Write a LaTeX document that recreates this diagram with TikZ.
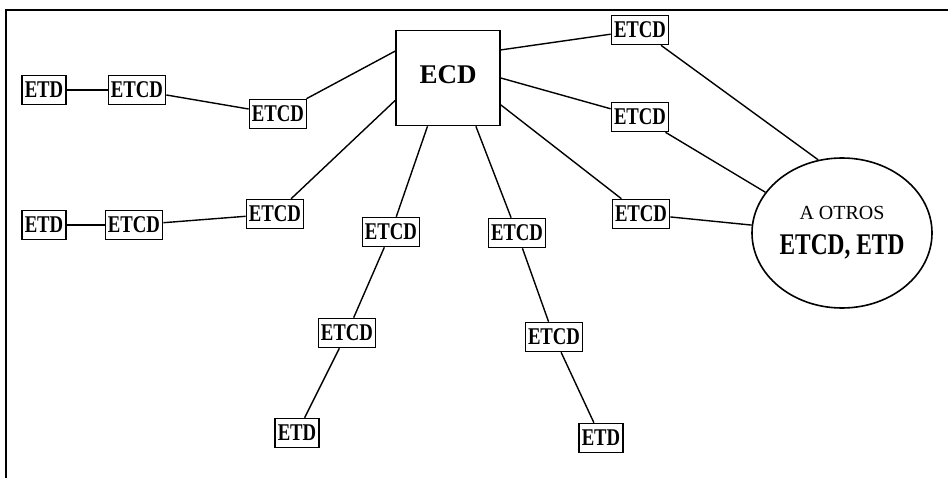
\documentclass[tikz,border=0pt]{standalone}
\usepackage{fontspec}
\setmainfont{Liberation Serif}
\usetikzlibrary{shapes.geometric}
\begin{document}
\begin{tikzpicture}[x=1pt,y=-1pt,
  box/.style={draw,line width=1.6pt,inner xsep=2.5pt,inner ysep=0pt,minimum height=29pt,
    font=\fontsize{24}{24}\selectfont\bfseries},
  link/.style={line width=1.4pt},
  frame/.style={line width=2.4pt}]
\useasboundingbox (0,0) rectangle (948,478);
\draw[frame] (6,478) -- (6,10) -- (948,10);
\newcommand{\tx}[1]{\scalebox{0.78}[1]{#1}}
% central node
\node[draw,line width=1.6pt,minimum width=104pt,minimum height=95pt,
  font=\fontsize{27}{27}\selectfont\bfseries] (ecd) at (448,78) {\raisebox{7pt}{ECD}};
% left upper chain
\node[box] (etd1) at (44,90) {\tx{ETD}};
\node[box] (etcd1) at (137,90) {\tx{ETCD}};
\node[box] (etcd2) at (278,114) {\tx{ETCD}};
% left lower chain
\node[box] (etd2) at (44,225) {\tx{ETD}};
\node[box] (etcd3) at (134,225) {\tx{ETCD}};
\node[box] (etcd4) at (275,214) {\tx{ETCD}};
% down-left chain
\node[box] (dl1) at (391,232) {\tx{ETCD}};
\node[box] (dl2) at (347,333) {\tx{ETCD}};
\node[box] (dletd) at (297,433) {\tx{ETD}};
% down-right chain
\node[box] (dr1) at (517,233) {\tx{ETCD}};
\node[box] (dr2) at (554,337) {\tx{ETCD}};
\node[box] (dretd) at (601,438) {\tx{ETD}};
% right column
\node[box] (ra) at (640,30) {\tx{ETCD}};
\node[box] (rb) at (640,117) {\tx{ETCD}};
\node[box] (rc) at (641,214) {\tx{ETCD}};
% ellipse
\node[draw,ellipse,line width=1.6pt,minimum width=180pt,minimum height=150pt,align=center,inner sep=0pt] (otros) at (842,233)
  {\raisebox{-4pt}{\fontsize{20}{20}\selectfont A OTROS}\\[14pt]
   \raisebox{-4pt}{\fontsize{30}{30}\selectfont\bfseries\tx{ETCD, ETD}}};
% connectors
\draw[link] (etd1) -- (etcd1);
\draw[link] (etcd1) -- (etcd2);
\draw[link] (etcd2) -- (ecd.153);
\draw[link] (etd2) -- (etcd3);
\draw[link] (etcd3) -- (etcd4);
\draw[link] (etcd4) -- (ecd.203);
\draw[link] (ecd.247) -- (dl1);
\draw[link] (dl1) -- (dl2);
\draw[link] (dl2) -- (dletd);
\draw[link] (ecd.300) -- (dr1);
\draw[link] (dr1) -- (dr2);
\draw[link] (dr2) -- (dretd);
\draw[link] (ecd.28) -- (ra);
\draw[link] (ecd.0) -- (rb);
\draw[link] (ecd.333) -- (rc);
\draw[link] (ra) -- (otros.108);
\draw[link] (rb) -- (otros.152);
\draw[link] (rc) -- (otros.175);
\end{tikzpicture}
\end{document}
